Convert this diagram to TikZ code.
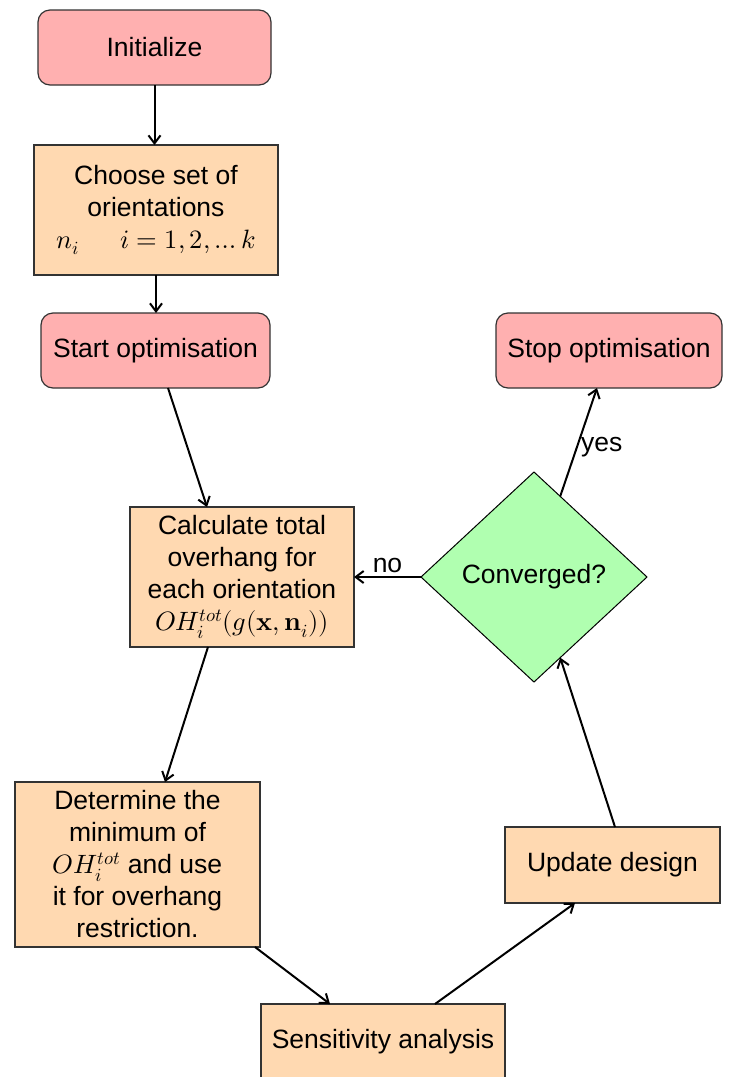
\documentclass[tikz,border=0pt]{standalone}
\usepackage{fontspec}
\usepackage{unicode-math}
\setmainfont{Liberation Sans}
\setmathfont{Latin Modern Math}
\usetikzlibrary{shapes.geometric,arrows.meta}
\definecolor{termpink}{HTML}{FFB0B0}
\definecolor{procpeach}{HTML}{FFD9B1}
\definecolor{decgreen}{HTML}{B0FFB0}
\begin{document}
\begin{tikzpicture}[x=1pt, y=-1pt, >={Straight Barb[length=8pt,width=12pt]},
  every node/.style={font=\fontsize{26.5}{32}\selectfont},
  termbox/.style={draw=black!80, line width=1.2pt, fill=termpink, rounded corners=12pt,
    inner sep=0pt, outer sep=0pt, minimum height=75pt},
  procbox/.style={draw=black!80, line width=1.2pt, fill=procpeach, align=center,
    inner sep=0pt, outer sep=0pt},
  decbox/.style={diamond, draw=black, line width=1pt, fill=decgreen, inner sep=0pt,
    outer sep=0pt, minimum width=226pt, minimum height=210pt},
  link/.style={->, line width=2pt}]
  \clip (0,0) rectangle (740,1077);
  \coordinate (I) at (154.5,47.5);  \coordinate (C) at (156,210);
  \coordinate (S) at (155.5,350.5); \coordinate (T) at (609,350.5);
  \coordinate (K) at (242,577);     \coordinate (V) at (534,577);
  \coordinate (D) at (137.5,864.5); \coordinate (U) at (612.5,865);
  \coordinate (N) at (383,1041.5);
  \node[termbox, minimum width=233pt] (init) at (I) {Initialize};
  \node[procbox, minimum width=244pt, minimum height=130pt] (choose) at (C)
    {Choose set of\\orientations\\$n_i\quad\;\; i=1,2,\ldots k$};
  \node[termbox, minimum width=229pt] (start) at (S) {Start optimisation};
  \node[termbox, minimum width=226pt] (stop) at (T) {Stop optimisation};
  \node[procbox, minimum width=224pt, minimum height=140pt] (calc) at (K)
    {Calculate total\\overhang for\\each orientation\\$OH_i^{tot}(g(\symbf{x},\symbf{n}_i))$};
  \node[decbox] (conv) at (V) {Converged?};
  \node[procbox, minimum width=245pt, minimum height=165pt] (det) at (D)
    {Determine the\\minimum of\\$OH_i^{tot}$ and use\\it for overhang\\restriction.};
  \node[procbox, minimum width=215pt, minimum height=76pt] (upd) at (U) {Update design};
  \node[procbox, minimum width=244pt, minimum height=75pt] (sens) at (N) {Sensitivity analysis};
  \draw[link] (init.south) -- (init.south |- choose.north);
  \draw[link] (choose.south) -- (choose.south |- start.north);
  \draw[link] ([xshift=12.5pt]start.south) -- ([xshift=-35pt]calc.north);
  \draw[link] ([xshift=-34pt]calc.south) -- ([xshift=27.5pt]det.north);
  \draw[link] ([xshift=117.5pt]det.south) -- ([xshift=-53pt]sens.north);
  \draw[link] ([xshift=52pt]sens.north) -- ([xshift=-37.5pt]upd.south);
  \draw[link] ([xshift=2.5pt]upd.north) -- (conv.-72);
  \draw[link] (conv.72) -- node[right, pos=.45] {yes} ([xshift=-12pt]stop.south);
  \draw[link] (conv.west) -- node[above] {no} (calc.east);
\end{tikzpicture}
\end{document}
